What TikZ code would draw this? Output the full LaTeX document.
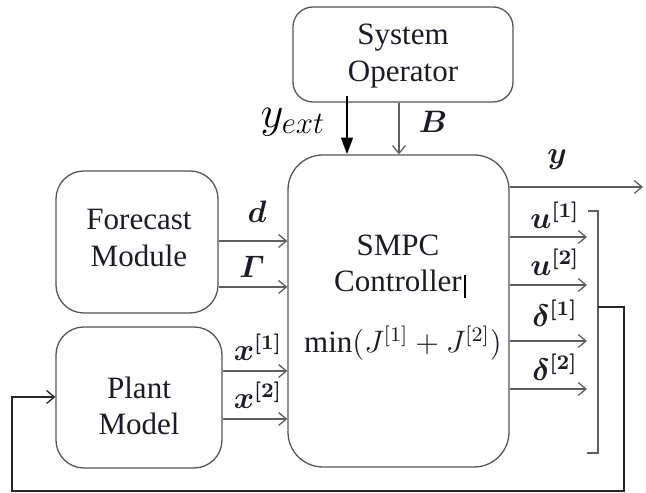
\documentclass[tikz,border=0pt]{standalone}
\usepackage{amsmath}
\usepackage{bm}
\usepackage{fontspec}
\setmainfont{Liberation Serif}
\usepackage{tikz}
\usetikzlibrary{arrows.meta, fit}
\definecolor{linegray}{HTML}{5E5E5E}
\definecolor{boxgray}{HTML}{555555}
\definecolor{txtdark}{HTML}{1C1C28}

\tikzset{
  block/.style={draw=boxgray, line width=0.5pt, inner sep=0pt},
  sig/.style={draw=linegray, line width=0.5pt, -{Straight Barb[length=3pt,width=5pt]}},
  lbl/.style={text=txtdark, font=\fontsize{12}{14}\selectfont},
  blocktxt/.style={lbl, align=center},
}

\begin{document}
\begin{tikzpicture}[x=0.0136cm, y=-0.0136cm]
  \useasboundingbox (0,0) rectangle (646,493);

  % --- blocks ---
  \node[block, rounded corners=7.7pt, fit={(293,7) (513,102)}] (oper) {};
  \node[block, rounded corners=10.8pt, fit={(56,171) (218,313)}] (fcst) {};
  \node[block, rounded corners=10.8pt, fit={(56,327) (222,468)}] (plant) {};
  \node[block, rounded corners=13.5pt, fit={(288,155) (509,467)}] (smpc) {};
  \node[blocktxt] (opertxt) at (403,56) {System\\Operator};
  \node[blocktxt] (fcsttxt) at (139,238) {Forecast\\Module};
  \node[blocktxt] (planttxt) at (139,406) {Plant\\Model};
  \node[blocktxt] (smpctxt) at (398,263) {SMPC\\Controller};
  \node[lbl] (cost) at (403,343) {$\min(J^{[1]}+J^{[2]})$};
  \draw[black, line width=0.6pt] (465,275) -- (465,298); % cursor mark

  % --- operator inputs ---
  \draw[black, line width=1pt, -{Triangle[length=6.5pt,width=4.5pt]}]
    ([yshift=2.7pt]oper.south -| 347,0) -- (smpc.north -| 347,0);
  \node[text=black, font=\fontsize{17}{20}\selectfont] (yext) at (293,122) {$y_{ext}$};
  \draw[sig] (oper.south -| 399,0) -- (smpc.north -| 399,0);
  \node[lbl] (lB) at (433,122) {$\bm{B}$};

  % --- forecast and plant signals ---
  \draw[sig] (fcst.east |- 0,241) -- (smpc.west |- 0,241);
  \draw[sig] (fcst.east |- 0,287) -- (smpc.west |- 0,287);
  \draw[sig] (plant.east |- 0,371) -- (smpc.west |- 0,371);
  \draw[sig] (plant.east |- 0,419) -- (smpc.west |- 0,419);
  \node[lbl] (ld) at (257,212) {$\bm{d}$};
  \node[lbl] (lG) at (252,267) {$\bm{\varGamma}$};
  \node[lbl] (lx1) at (258,347) {$\bm{x^{[1]}}$};
  \node[lbl] (lx2) at (258,395) {$\bm{x^{[2]}}$};

  % --- outputs ---
  \draw[sig] (smpc.east |- 0,187) -- (643,187);
  \node[lbl] (ly) at (557,160) {$\bm{y}$};
  \foreach \yy in {237, 285, 341, 389} {
    \draw[sig] (smpc.east |- 0,\yy) -- (587,\yy);
  }
  \node[lbl] (lu1) at (555,215) {$\bm{u^{[1]}}$};
  \node[lbl] (lu2) at (555,262) {$\bm{u^{[2]}}$};
  \node[lbl] (ld1) at (555,313) {$\bm{\delta^{[1]}}$};
  \node[lbl] (ld2) at (555,367) {$\bm{\delta^{[2]}}$};

  % --- bracket and feedback ---
  \coordinate (brk) at (598,307);
  \draw[linegray, line width=0.5pt] (588,211) -- (598,211) -- (598,453) -- (587,453);
  \draw[sig, draw=black!85] (brk) -- (624,307) -- (624,491) -- (12,491) -- (12,397)
    -- (plant.west |- 0,397);

\end{tikzpicture}
\end{document}
